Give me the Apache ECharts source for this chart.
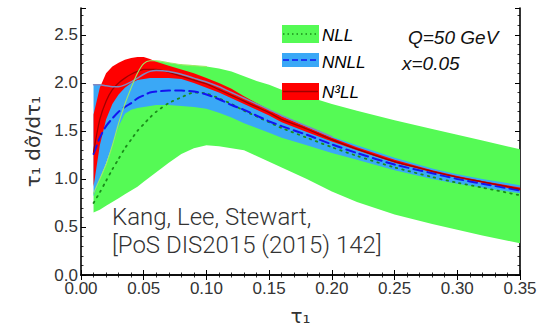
<!DOCTYPE html>
<html><head><meta charset="utf-8">
<script src="https://cdn.jsdelivr.net/npm/echarts@6/dist/echarts.min.js"></script>
<style>html,body{margin:0;padding:0;background:#fff}#c{width:549px;height:331px}</style>
</head><body><div id="c"></div>
<script>
const tau = [0.01,0.015,0.02,0.025,0.03,0.035,0.04,0.045,0.05,0.055,0.06,0.07,0.08,0.09,0.10,0.11,0.12,0.13,0.14,0.15,0.16,0.18,0.20,0.22,0.25,0.28,0.30,0.32,0.35];
const nllLow  = [0.65,0.68,0.72,0.76,0.80,0.84,0.88,0.92,0.97,1.02,1.07,1.17,1.26,1.32,1.35,1.34,1.32,1.30,1.24,1.18,1.12,1.00,0.87,0.76,0.63,0.53,0.47,0.41,0.33];
const nllHigh = [0.85,1.00,1.15,1.35,1.58,1.78,1.95,2.10,2.20,2.23,2.23,2.21,2.19,2.18,2.17,2.15,2.12,2.07,2.02,1.98,1.93,1.86,1.78,1.71,1.61,1.52,1.46,1.40,1.31];
const nllMid  = [0.75,0.86,0.98,1.10,1.21,1.32,1.41,1.50,1.57,1.64,1.70,1.79,1.85,1.90,1.89,1.84,1.78,1.71,1.65,1.59,1.53,1.43,1.33,1.24,1.12,1.02,0.96,0.91,0.83];
const nnllLow  = [0.82,1.00,1.16,1.35,1.55,1.68,1.72,1.74,1.75,1.76,1.77,1.77,1.76,1.75,1.73,1.69,1.64,1.58,1.53,1.48,1.43,1.35,1.27,1.20,1.09,1.00,0.95,0.91,0.85];
const nnllHigh = [1.98,1.98,1.97,1.96,1.96,1.98,2.01,2.05,2.09,2.12,2.13,2.12,2.09,2.05,2.01,1.96,1.90,1.84,1.78,1.72,1.66,1.55,1.44,1.35,1.22,1.11,1.05,1.00,0.935];
const nnllMid  = [1.26,1.43,1.55,1.63,1.70,1.75,1.79,1.84,1.87,1.90,1.91,1.92,1.92,1.91,1.88,1.83,1.77,1.72,1.66,1.60,1.55,1.46,1.36,1.27,1.15,1.06,1.00,0.95,0.88];
const n3llLow  = [0.92,1.35,1.62,1.78,1.88,1.95,2.00,2.03,2.04,2.05,2.05,2.05,2.04,2.00,1.95,1.90,1.84,1.78,1.72,1.66,1.59,1.49,1.39,1.30,1.17,1.07,1.01,0.96,0.88];
const n3llHigh = [1.67,1.95,2.10,2.17,2.21,2.24,2.26,2.27,2.27,2.25,2.22,2.18,2.14,2.10,2.05,2.00,1.94,1.86,1.79,1.72,1.65,1.54,1.43,1.33,1.20,1.09,1.03,0.98,0.91];
const n3llMid  = [1.28,1.62,1.81,1.93,2.00,2.05,2.09,2.12,2.14,2.14,2.14,2.11,2.07,2.03,1.99,1.93,1.87,1.81,1.75,1.69,1.62,1.52,1.41,1.31,1.18,1.08,1.02,0.97,0.895];
const xTicks = [0,0.05,0.10,0.15,0.20,0.25,0.30,0.35];
const yTicks = [0,0.5,1.0,1.5,2.0,2.5];
const legendNames = ['NLL','NNLL','N³LL'];

const chart = echarts.init(document.getElementById('c'), null, {renderer:'svg'});
const pair = (arr, maxT) => tau.map((t,i)=>[t,arr[i]]).filter(p=>maxT===undefined || p[0]<=maxT);
function band(name, lo, hi, color, z){
  return {type:'custom', name, z, silent:true, clip:true, data:[[tau[0], lo[0]]],
    renderItem:(params, api)=>{
      const pts=[];
      for(let i=0;i<tau.length;i++) pts.push(api.coord([tau[i],hi[i]]));
      for(let i=tau.length-1;i>=0;i--) pts.push(api.coord([tau[i],lo[i]]));
      return {type:'polygon', shape:{points:pts}, style:{fill:color, stroke:null}};
    }};
}
function line(name, arr, color, width, type, z, maxT){
  return {type:'line', name, z, data:pair(arr, maxT), showSymbol:false, smooth:0.25, silent:true,
    lineStyle:{color, width, type, cap:'round'}};
}
const GREEN='#55fa55', BLUE='#3aa8f6', RED='#ff0000';
const axisFont = {fontFamily:'Liberation Sans', fontSize:17, color:'#333'};
const xBase = {type:'value', min:0, max:0.35, interval:0.05,
  axisLine:{show:true, lineStyle:{color:'#000', width:1.6}},
  axisTick:{show:true, inside:true, length:5, lineStyle:{color:'#000', width:1}},
  minorTick:{show:true, splitNumber:5, length:2.5, lineStyle:{color:'#000', width:0.8}},
  splitLine:{show:false}};
const yBase = {type:'value', min:0, max:2.78, interval:0.5,
  axisLine:{show:true, onZero:false, lineStyle:{color:'#000', width:1.6}},
  axisTick:{show:true, inside:true, length:5, lineStyle:{color:'#000', width:1}},
  minorTick:{show:true, splitNumber:5, length:2.5, lineStyle:{color:'#000', width:0.8}},
  splitLine:{show:false}};

const legendY = [35, 62, 92];
const legendSw = [[25,18],[53,14],[83,17]];
const legendCol = [GREEN, BLUE, RED];
const legendLine = [{stroke:'#1a8c1a', lineDash:[1.5,3], lineWidth:1.5},{stroke:'#1010ee', lineDash:[6,3], lineWidth:1.5},{stroke:'#a00000', lineWidth:1.3}];
const graphics = [];
legendNames.forEach((n,i)=>{
  graphics.push({type:'rect', left:282, top:legendSw[i][0], shape:{width:37,height:legendSw[i][1]}, style:{fill:legendCol[i]}, z:100});
  graphics.push({type:'line', shape:{x1:283,y1:legendSw[i][0]+legendSw[i][1]/2,x2:318,y2:legendSw[i][0]+legendSw[i][1]/2}, style:legendLine[i], z:101});
  graphics.push({type:'text', x:322, y:legendY[i], style:{text:n, fontFamily:'Liberation Sans', fontStyle:'italic', fontSize:17, fill:'#000', textVerticalAlign:'middle', textAlign:'left'}, z:101});
});
graphics.push({type:'text', x:408, y:37, style:{text:'Q=50 GeV', fontFamily:'Liberation Sans', fontStyle:'italic', fontSize:19, fill:'#111', textVerticalAlign:'middle'}, z:101});
graphics.push({type:'text', x:402, y:63, style:{text:'x=0.05', fontFamily:'Liberation Sans', fontStyle:'italic', fontSize:19, fill:'#111', textVerticalAlign:'middle'}, z:101});
graphics.push({type:'text', x:112, y:217, style:{text:'Kang, Lee, Stewart,', fontFamily:'Roboto', fontWeight:300, fontSize:24, fill:'#333', textVerticalAlign:'middle'}, z:101});
graphics.push({type:'text', x:112, y:245, style:{text:'[PoS DIS2015 (2015) 142]', fontFamily:'Roboto', fontWeight:300, fontSize:24, fill:'#333', textVerticalAlign:'middle'}, z:101});

chart.setOption({
  animation:false,
  grid:{left:81, right:29, top:8, bottom:52, containLabel:false},
  xAxis:[
    Object.assign({}, xBase, {position:'bottom', name:'τ₁', nameLocation:'middle', nameGap:31,
      nameTextStyle:{fontFamily:'DejaVu Sans', fontSize:20, color:'#333'},
      axisLabel:Object.assign({margin:5, formatter:v=>xTicks.some(t=>Math.abs(t-v)<1e-9)?v.toFixed(2):''}, axisFont)}),
    Object.assign({}, xBase, {position:'top', axisLabel:{show:false}})
  ],
  yAxis:[
    Object.assign({}, yBase, {position:'left', name:'τ₁ dσ̂/dτ₁', nameLocation:'middle', nameGap:36,
      nameTextStyle:{fontFamily:'DejaVu Sans', fontSize:20, color:'#333'},
      axisLabel:Object.assign({margin:3, formatter:v=>yTicks.some(t=>Math.abs(t-v)<1e-9)?v.toFixed(1):''}, axisFont)}),
    Object.assign({}, yBase, {position:'right', axisLabel:{show:false}})
  ],
  graphic:graphics,
  series:[
    band('NLL', nllLow, nllHigh, GREEN, 1),
    band('NNLL', nnllLow, nnllHigh, BLUE, 2),
    band('N³LL', n3llLow, n3llHigh, RED, 3),
    line('NLL central', nllMid, '#1a8c1a', 1.8, [1.5,5], 5),
    line('NNLL central', nnllMid, '#1414f0', 2, [9,5], 6),
    line('N³LL central', n3llMid, '#a00000', 1.3, 'solid', 7),
    line('NNLL upper', nnllHigh, '#8088c0', 1.5, 'solid', 8, 0.2),
    line('NLL upper', nllHigh, '#9aec66', 1.1, 'solid', 8, 0.1)
  ]
});
</script></body></html>
